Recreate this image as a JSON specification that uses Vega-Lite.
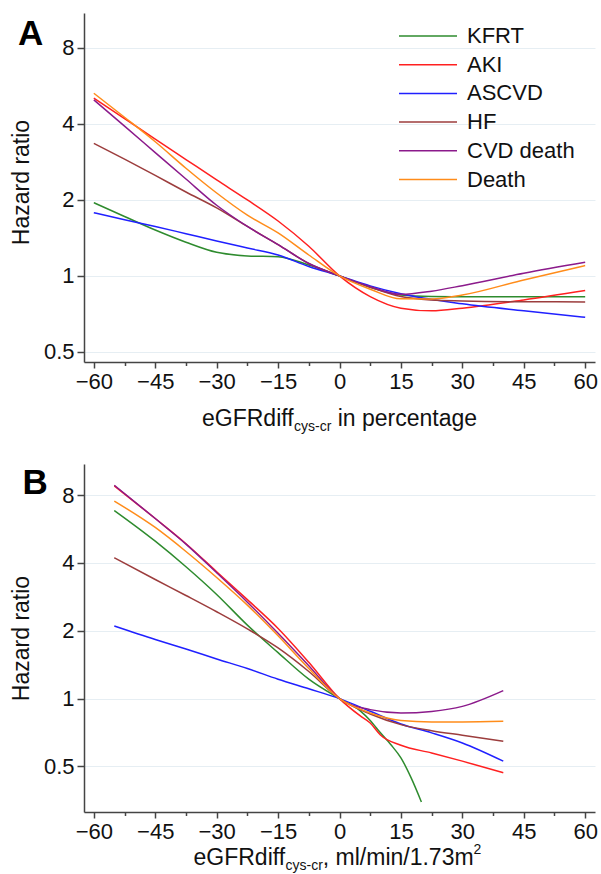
{
  "$schema": "https://vega.github.io/schema/vega-lite/v6.json",
  "background": "white",
  "padding": {"left": 10, "top": 13, "right": 5, "bottom": 0},
  "spacing": 30,
  "config": {
    "font": "Liberation Sans",
    "view": {"stroke": null},
    "axis": {"labelFontSize": 22, "labelColor": "#111", "domainColor": "#444", "domainWidth": 1.5, "tickColor": "#444", "tickWidth": 1.5, "titleFontSize": 23, "titleFontWeight": "normal", "titleColor": "#111", "gridColor": "#e6eef3", "gridWidth": 1},
    "legend": {"orient": "none", "legendX": 314, "legendY": 12, "padding": 0, "symbolType": "stroke", "symbolSize": 3364, "symbolStrokeWidth": 1.5, "clipHeight": 22, "labelFontSize": 22, "labelColor": "#111", "labelOffset": 9, "rowPadding": 6.7}
  },
  "datasets": {
    "A": [
      {"g": "KFRT", "x": -60, "hr": 1.95}, {"g": "KFRT", "x": -52.5, "hr": 1.72}, {"g": "KFRT", "x": -45, "hr": 1.52}, {"g": "KFRT", "x": -37.5, "hr": 1.36}, {"g": "KFRT", "x": -30, "hr": 1.24}, {"g": "KFRT", "x": -22.5, "hr": 1.2}, {"g": "KFRT", "x": -15, "hr": 1.19}, {"g": "KFRT", "x": -7.5, "hr": 1.105}, {"g": "KFRT", "x": 0, "hr": 1}, {"g": "KFRT", "x": 7.5, "hr": 0.902}, {"g": "KFRT", "x": 15, "hr": 0.84}, {"g": "KFRT", "x": 22.5, "hr": 0.828}, {"g": "KFRT", "x": 30, "hr": 0.826}, {"g": "KFRT", "x": 45, "hr": 0.826}, {"g": "KFRT", "x": 60, "hr": 0.826},
      {"g": "AKI", "x": -60, "hr": 5.06}, {"g": "AKI", "x": -52.5, "hr": 4.2}, {"g": "AKI", "x": -45, "hr": 3.48}, {"g": "AKI", "x": -37.5, "hr": 2.89}, {"g": "AKI", "x": -30, "hr": 2.4}, {"g": "AKI", "x": -22.5, "hr": 2.0}, {"g": "AKI", "x": -15, "hr": 1.65}, {"g": "AKI", "x": -7.5, "hr": 1.31}, {"g": "AKI", "x": 0, "hr": 1}, {"g": "AKI", "x": 7.5, "hr": 0.828}, {"g": "AKI", "x": 15, "hr": 0.745}, {"g": "AKI", "x": 22.5, "hr": 0.727}, {"g": "AKI", "x": 30, "hr": 0.745}, {"g": "AKI", "x": 45, "hr": 0.803}, {"g": "AKI", "x": 60, "hr": 0.875},
      {"g": "ASCVD", "x": -60, "hr": 1.78}, {"g": "ASCVD", "x": -52.5, "hr": 1.67}, {"g": "ASCVD", "x": -45, "hr": 1.57}, {"g": "ASCVD", "x": -37.5, "hr": 1.47}, {"g": "ASCVD", "x": -30, "hr": 1.376}, {"g": "ASCVD", "x": -22.5, "hr": 1.29}, {"g": "ASCVD", "x": -15, "hr": 1.21}, {"g": "ASCVD", "x": -7.5, "hr": 1.09}, {"g": "ASCVD", "x": 0, "hr": 1}, {"g": "ASCVD", "x": 7.5, "hr": 0.913}, {"g": "ASCVD", "x": 15, "hr": 0.849}, {"g": "ASCVD", "x": 30, "hr": 0.775}, {"g": "ASCVD", "x": 45, "hr": 0.727}, {"g": "ASCVD", "x": 60, "hr": 0.686},
      {"g": "HF", "x": -60, "hr": 3.35}, {"g": "HF", "x": -52.5, "hr": 2.9}, {"g": "HF", "x": -45, "hr": 2.5}, {"g": "HF", "x": -37.5, "hr": 2.15}, {"g": "HF", "x": -30, "hr": 1.86}, {"g": "HF", "x": -22.5, "hr": 1.57}, {"g": "HF", "x": -15, "hr": 1.33}, {"g": "HF", "x": -7.5, "hr": 1.12}, {"g": "HF", "x": 0, "hr": 1}, {"g": "HF", "x": 7.5, "hr": 0.902}, {"g": "HF", "x": 15, "hr": 0.828}, {"g": "HF", "x": 22.5, "hr": 0.803}, {"g": "HF", "x": 30, "hr": 0.796}, {"g": "HF", "x": 45, "hr": 0.79}, {"g": "HF", "x": 60, "hr": 0.789},
      {"g": "CVD death", "x": -60, "hr": 4.98}, {"g": "CVD death", "x": -52.5, "hr": 3.92}, {"g": "CVD death", "x": -45, "hr": 3.08}, {"g": "CVD death", "x": -37.5, "hr": 2.42}, {"g": "CVD death", "x": -30, "hr": 1.905}, {"g": "CVD death", "x": -22.5, "hr": 1.57}, {"g": "CVD death", "x": -15, "hr": 1.33}, {"g": "CVD death", "x": -7.5, "hr": 1.12}, {"g": "CVD death", "x": 0, "hr": 1}, {"g": "CVD death", "x": 7.5, "hr": 0.907}, {"g": "CVD death", "x": 15, "hr": 0.845}, {"g": "CVD death", "x": 22.5, "hr": 0.87}, {"g": "CVD death", "x": 30, "hr": 0.915}, {"g": "CVD death", "x": 45, "hr": 1.025}, {"g": "CVD death", "x": 60, "hr": 1.133},
      {"g": "Death", "x": -60, "hr": 5.29}, {"g": "Death", "x": -52.5, "hr": 4.25}, {"g": "Death", "x": -45, "hr": 3.4}, {"g": "Death", "x": -37.5, "hr": 2.67}, {"g": "Death", "x": -30, "hr": 2.13}, {"g": "Death", "x": -22.5, "hr": 1.74}, {"g": "Death", "x": -15, "hr": 1.48}, {"g": "Death", "x": -7.5, "hr": 1.21}, {"g": "Death", "x": 0, "hr": 1}, {"g": "Death", "x": 7.5, "hr": 0.886}, {"g": "Death", "x": 15, "hr": 0.811}, {"g": "Death", "x": 22.5, "hr": 0.81}, {"g": "Death", "x": 30, "hr": 0.84}, {"g": "Death", "x": 45, "hr": 0.964}, {"g": "Death", "x": 60, "hr": 1.099}
    ],
    "B": [
      {"g": "KFRT", "x": -55, "hr": 6.84}, {"g": "KFRT", "x": -45, "hr": 5.0}, {"g": "KFRT", "x": -37.5, "hr": 3.85}, {"g": "KFRT", "x": -30, "hr": 2.9}, {"g": "KFRT", "x": -22.5, "hr": 2.12}, {"g": "KFRT", "x": -15, "hr": 1.6}, {"g": "KFRT", "x": -7.5, "hr": 1.22}, {"g": "KFRT", "x": 0, "hr": 1}, {"g": "KFRT", "x": 5, "hr": 0.885}, {"g": "KFRT", "x": 7.5, "hr": 0.8}, {"g": "KFRT", "x": 10, "hr": 0.705}, {"g": "KFRT", "x": 12.5, "hr": 0.626}, {"g": "KFRT", "x": 15, "hr": 0.546}, {"g": "KFRT", "x": 17.5, "hr": 0.445}, {"g": "KFRT", "x": 20, "hr": 0.348},
      {"g": "AKI", "x": -55, "hr": 8.8}, {"g": "AKI", "x": -45, "hr": 6.3}, {"g": "AKI", "x": -37.5, "hr": 4.87}, {"g": "AKI", "x": -30, "hr": 3.66}, {"g": "AKI", "x": -22.5, "hr": 2.75}, {"g": "AKI", "x": -15, "hr": 2.05}, {"g": "AKI", "x": -7.5, "hr": 1.45}, {"g": "AKI", "x": 0, "hr": 1}, {"g": "AKI", "x": 5, "hr": 0.84}, {"g": "AKI", "x": 7.5, "hr": 0.78}, {"g": "AKI", "x": 10, "hr": 0.69}, {"g": "AKI", "x": 15, "hr": 0.621}, {"g": "AKI", "x": 22.5, "hr": 0.574}, {"g": "AKI", "x": 30, "hr": 0.528}, {"g": "AKI", "x": 40, "hr": 0.469},
      {"g": "ASCVD", "x": -55, "hr": 2.1}, {"g": "ASCVD", "x": -45, "hr": 1.83}, {"g": "ASCVD", "x": -37.5, "hr": 1.66}, {"g": "ASCVD", "x": -30, "hr": 1.5}, {"g": "ASCVD", "x": -22.5, "hr": 1.36}, {"g": "ASCVD", "x": -15, "hr": 1.22}, {"g": "ASCVD", "x": -7.5, "hr": 1.106}, {"g": "ASCVD", "x": 0, "hr": 1}, {"g": "ASCVD", "x": 7.5, "hr": 0.879}, {"g": "ASCVD", "x": 15, "hr": 0.772}, {"g": "ASCVD", "x": 22.5, "hr": 0.705}, {"g": "ASCVD", "x": 30, "hr": 0.636}, {"g": "ASCVD", "x": 40, "hr": 0.528},
      {"g": "HF", "x": -55, "hr": 4.22}, {"g": "HF", "x": -45, "hr": 3.38}, {"g": "HF", "x": -37.5, "hr": 2.87}, {"g": "HF", "x": -30, "hr": 2.43}, {"g": "HF", "x": -22.5, "hr": 2.04}, {"g": "HF", "x": -15, "hr": 1.68}, {"g": "HF", "x": -7.5, "hr": 1.32}, {"g": "HF", "x": 0, "hr": 1}, {"g": "HF", "x": 7.5, "hr": 0.855}, {"g": "HF", "x": 15, "hr": 0.767}, {"g": "HF", "x": 22.5, "hr": 0.721}, {"g": "HF", "x": 30, "hr": 0.688}, {"g": "HF", "x": 40, "hr": 0.647},
      {"g": "CVD death", "x": -55, "hr": 8.85}, {"g": "CVD death", "x": -45, "hr": 6.3}, {"g": "CVD death", "x": -37.5, "hr": 4.85}, {"g": "CVD death", "x": -30, "hr": 3.62}, {"g": "CVD death", "x": -22.5, "hr": 2.68}, {"g": "CVD death", "x": -15, "hr": 1.95}, {"g": "CVD death", "x": -7.5, "hr": 1.4}, {"g": "CVD death", "x": 0, "hr": 1}, {"g": "CVD death", "x": 7.5, "hr": 0.894}, {"g": "CVD death", "x": 15, "hr": 0.864}, {"g": "CVD death", "x": 22.5, "hr": 0.878}, {"g": "CVD death", "x": 30, "hr": 0.924}, {"g": "CVD death", "x": 40, "hr": 1.085},
      {"g": "Death", "x": -55, "hr": 7.53}, {"g": "Death", "x": -45, "hr": 5.75}, {"g": "Death", "x": -37.5, "hr": 4.5}, {"g": "Death", "x": -30, "hr": 3.45}, {"g": "Death", "x": -22.5, "hr": 2.6}, {"g": "Death", "x": -15, "hr": 1.9}, {"g": "Death", "x": -7.5, "hr": 1.36}, {"g": "Death", "x": 0, "hr": 1}, {"g": "Death", "x": 7.5, "hr": 0.864}, {"g": "Death", "x": 15, "hr": 0.8}, {"g": "Death", "x": 22.5, "hr": 0.788}, {"g": "Death", "x": 30, "hr": 0.788}, {"g": "Death", "x": 40, "hr": 0.793}
    ]
  },
  "vconcat": [
    {
      "width": 511,
      "height": 349,
      "resolve": {"axis": {"x": "independent", "y": "independent"}},
      "layer": [
        {
          "data": {"name": "A"},
          "mark": {"type": "line", "interpolate": "monotone", "strokeWidth": 1.5},
          "encoding": {
            "x": {"field": "x", "type": "quantitative", "scale": {"domain": [-62.4, 62.4], "nice": false, "zero": false},
                  "axis": {"orient": "bottom", "values": [-60, -45, -30, -15, 0, 15, 30, 45, 60], "title": null, "grid": false, "tickSize": 6, "labelPadding": 3}},
            "y": {"field": "hr", "type": "quantitative", "scale": {"type": "log", "domain": [0.456, 11], "nice": false},
                  "axis": {"orient": "left", "values": [0.5, 1, 2, 4, 8], "format": "~g", "title": "Hazard ratio", "titleY": 169, "grid": true, "tickSize": 7, "labelPadding": 3, "titlePadding": 10}},
            "color": {"field": "g", "type": "nominal",
                      "scale": {"domain": ["KFRT", "AKI", "ASCVD", "HF", "CVD death", "Death"], "range": ["#2e8b2e", "#ff2020", "#2020ff", "#9c3d3d", "#8b1a8b", "#ff8c1a"]},
                      "legend": {"title": null}}
          }
        },
        {
          "data": {"name": "A"},
          "mark": {"type": "point", "opacity": 0},
          "encoding": {
            "x": {"field": "x", "type": "quantitative",
                  "axis": {"orient": "bottom", "values": [-52.5, -37.5, -22.5, -7.5, 7.5, 22.5, 37.5, 52.5], "labels": false, "domain": false, "grid": false, "title": null, "tickSize": 3.5}},
            "y": {"field": "hr", "type": "quantitative", "axis": null}
          }
        },
        {
          "data": {"values": [{"t": "A"}]},
          "mark": {"type": "text", "align": "left", "baseline": "alphabetic", "fontSize": 35, "fontWeight": "bold", "dx": -66, "dy": 32, "color": "#000"},
          "encoding": {"text": {"field": "t"}, "x": {"datum": -62.4, "axis": null}, "y": {"datum": 11, "axis": null}}
        },
        {
          "data": {"values": [{"t": "eGFRdiff"}]},
          "mark": {"type": "text", "align": "left", "baseline": "alphabetic", "fontSize": 23, "dx": -137.5, "dy": 64, "color": "#111"},
          "encoding": {"text": {"field": "t"}, "x": {"datum": 0, "axis": null}, "y": {"datum": 0.456, "axis": null}}
        },
        {
          "data": {"values": [{"t": "cys-cr"}]},
          "mark": {"type": "text", "align": "left", "baseline": "alphabetic", "fontSize": 14, "dx": -45.5, "dy": 69, "color": "#111"},
          "encoding": {"text": {"field": "t"}, "x": {"datum": 0, "axis": null}, "y": {"datum": 0.456, "axis": null}}
        },
        {
          "data": {"values": [{"t": "in percentage"}]},
          "mark": {"type": "text", "align": "left", "baseline": "alphabetic", "fontSize": 23, "dx": -1.8, "dy": 64, "color": "#111"},
          "encoding": {"text": {"field": "t"}, "x": {"datum": 0, "axis": null}, "y": {"datum": 0.456, "axis": null}}
        }
      ]
    },
    {
      "width": 511,
      "height": 348,
      "resolve": {"axis": {"x": "independent", "y": "independent"}},
      "layer": [
        {
          "data": {"name": "B"},
          "mark": {"type": "line", "interpolate": "monotone", "strokeWidth": 1.5},
          "encoding": {
            "x": {"field": "x", "type": "quantitative", "scale": {"domain": [-62.4, 62.4], "nice": false, "zero": false},
                  "axis": {"orient": "bottom", "values": [-60, -45, -30, -15, 0, 15, 30, 45, 60], "title": null, "grid": false, "tickSize": 6, "labelPadding": 3}},
            "y": {"field": "hr", "type": "quantitative", "scale": {"type": "log", "domain": [0.314, 11], "nice": false},
                  "axis": {"orient": "left", "values": [0.5, 1, 2, 4, 8], "format": "~g", "title": "Hazard ratio", "grid": true, "tickSize": 7, "labelPadding": 3, "titlePadding": 10}},
            "color": {"field": "g", "type": "nominal",
                      "scale": {"domain": ["KFRT", "AKI", "ASCVD", "HF", "CVD death", "Death"], "range": ["#2e8b2e", "#ff2020", "#2020ff", "#9c3d3d", "#8b1a8b", "#ff8c1a"]},
                      "legend": {"title": null}}
          }
        },
        {
          "data": {"name": "B"},
          "mark": {"type": "point", "opacity": 0},
          "encoding": {
            "x": {"field": "x", "type": "quantitative",
                  "axis": {"orient": "bottom", "values": [-52.5, -37.5, -22.5, -7.5, 7.5, 22.5, 37.5, 52.5], "labels": false, "domain": false, "grid": false, "title": null, "tickSize": 3.5}},
            "y": {"field": "hr", "type": "quantitative", "axis": null}
          }
        },
        {
          "data": {"values": [{"t": "B"}]},
          "mark": {"type": "text", "align": "left", "baseline": "alphabetic", "fontSize": 35, "fontWeight": "bold", "dx": -61.5, "dy": 30, "color": "#000"},
          "encoding": {"text": {"field": "t"}, "x": {"datum": -62.4, "axis": null}, "y": {"datum": 11, "axis": null}}
        },
        {
          "data": {"values": [{"t": "eGFRdiff"}]},
          "mark": {"type": "text", "align": "left", "baseline": "alphabetic", "fontSize": 23, "dx": -146, "dy": 53, "color": "#111"},
          "encoding": {"text": {"field": "t"}, "x": {"datum": 0, "axis": null}, "y": {"datum": 0.314, "axis": null}}
        },
        {
          "data": {"values": [{"t": "cys-cr"}]},
          "mark": {"type": "text", "align": "left", "baseline": "alphabetic", "fontSize": 14, "dx": -54, "dy": 58, "color": "#111"},
          "encoding": {"text": {"field": "t"}, "x": {"datum": 0, "axis": null}, "y": {"datum": 0.314, "axis": null}}
        },
        {
          "data": {"values": [{"t": ", ml/min/1.73m"}]},
          "mark": {"type": "text", "align": "left", "baseline": "alphabetic", "fontSize": 23, "dx": -16.7, "dy": 53, "color": "#111"},
          "encoding": {"text": {"field": "t"}, "x": {"datum": 0, "axis": null}, "y": {"datum": 0.314, "axis": null}}
        },
        {
          "data": {"values": [{"t": "2"}]},
          "mark": {"type": "text", "align": "left", "baseline": "alphabetic", "fontSize": 14, "dx": 134, "dy": 42, "color": "#111"},
          "encoding": {"text": {"field": "t"}, "x": {"datum": 0, "axis": null}, "y": {"datum": 0.314, "axis": null}}
        }
      ]
    }
  ]
}
